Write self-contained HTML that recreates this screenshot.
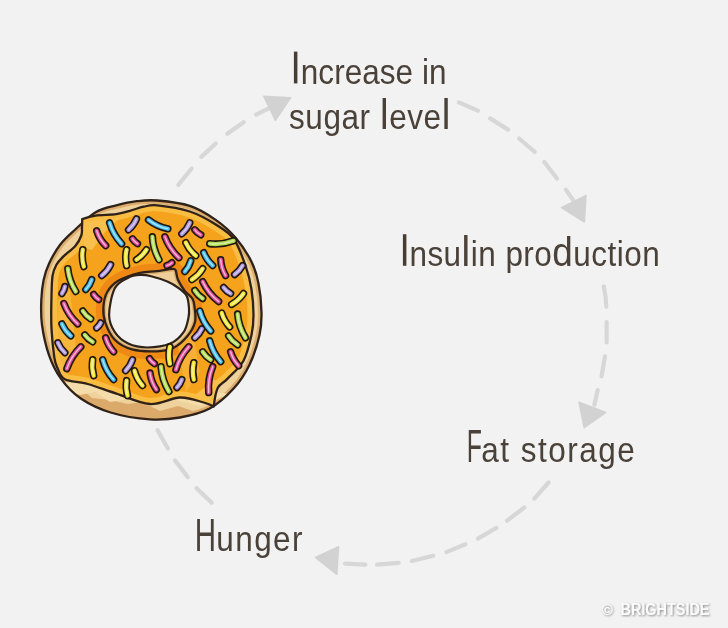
<!DOCTYPE html>
<html><head><meta charset="utf-8">
<style>
html,body{margin:0;padding:0;background:#f2f2f2;width:728px;height:628px;overflow:hidden;}
svg{display:block;position:absolute;left:0;top:0;will-change:transform;}
text{font-family:"Liberation Sans",sans-serif;fill:#4a4139;}
</style></head><body>
<svg width="728" height="628" viewBox="0 0 728 628">
<rect width="728" height="628" fill="#f2f2f2"/>
<!-- arrows -->
<g stroke="#d7d7d7" stroke-width="4.2" stroke-linecap="round" fill="none" id="arrows">
<path d="M178.3,184.8 L191.7,168.5"/>
<path d="M201.3,156.9 L215.8,143.5"/>
<path d="M227.3,133.8 L243.7,122.3"/>
<path d="M256.2,114.6 L269.6,107.9"/>

<path d="M458.9,102.4 L477.9,110.6"/>
<path d="M490.1,118.4 L508,129.6"/>
<path d="M519.1,138.5 L534.7,151.9"/>
<path d="M544.3,161.9 L557,178.6"/>
<path d="M565.9,189.7 L573.7,200.9"/>

<path d="M603.8,286.5 Q606,296 606.3,306.8"/>
<path d="M606.6,322 L606.6,342.4"/>
<path d="M605,356.4 L601.5,376.3"/>
<path d="M597.7,390 L594.4,404.8"/>

<path d="M548.6,482.5 L534.3,498.6"/>
<path d="M524.3,507.5 L507.1,520.7"/>
<path d="M496.4,527.9 L477.9,538.6"/>
<path d="M465.4,544.3 L446.4,552.1"/>
<path d="M433.2,555.7 L411.8,561"/>
<path d="M398.6,562.9 L377.1,564.6"/>
<path d="M365.4,564.6 L345,563.6"/>

<path d="M157.5,430.1 L167.9,448.5"/>
<path d="M175,460.4 L187.8,477.1"/>
<path d="M196.5,488.3 L211.7,502.6"/>
</g>
<g fill="#d2d2d2" stroke="#d2d2d2" stroke-width="1.5" stroke-linejoin="round">
<polygon points="263.8,96.3 290.8,97.7 275.4,120.4"/>
<polygon points="561.4,207.6 586,195.3 584.4,222"/>
<polygon points="579,402.2 605.8,412.4 584.2,427.7"/>
<polygon points="315.4,557.5 338.6,546.8 336.8,574.3"/>
</g>
<!-- text -->
<rect x="293.9" y="51.6" width="3.5" height="31.8" fill="#463c34"/>
<rect x="402.9" y="234.2" width="3.5" height="31.6" fill="#463c34"/>
<text transform="translate(300.80,84.00) scale(0.900,1)" font-size="35" textLength="161.92" lengthAdjust="spacing">ncrease in</text>
<text transform="translate(289.00,129.00) scale(0.900,1)" font-size="35" textLength="179.25" lengthAdjust="spacing">sugar <tspan style="font-size:43px">l</tspan>eve<tspan style="font-size:43px">l</tspan></text>
<text transform="translate(409.40,266.00) scale(0.900,1)" font-size="35" textLength="278.19" lengthAdjust="spacing">nsu<tspan style="font-size:43px">l</tspan>in pro<tspan style="font-size:41px">d</tspan>uction</text>
<text transform="translate(466.80,462.30) scale(0.539,1)" font-size="46">F</text>
<text transform="translate(481.30,462.30) scale(0.900,1)" font-size="35" textLength="170.58" lengthAdjust="spacing">at storage</text>
<text transform="translate(194.70,551.00) scale(0.642,1)" font-size="46">H</text>
<text transform="translate(216.30,551.00) scale(0.900,1)" font-size="35" textLength="95.81" lengthAdjust="spacing">unger</text>
<!-- /text -->
<defs><filter id="sh" x="-10%" y="-30%" width="130%" height="180%"><feGaussianBlur in="SourceAlpha" stdDeviation="0.9"/><feOffset dx="1" dy="1.3" result="b"/><feFlood flood-color="#8a8a8a"/><feComposite in2="b" operator="in"/><feMerge><feMergeNode/><feMergeNode in="SourceGraphic"/></feMerge></filter></defs>
<text x="601.8" y="614.6" font-size="15" font-weight="bold" style="fill:#fbfbfb" filter="url(#sh)">©</text><text x="620.5" y="614.6" font-size="16" font-weight="bold" textLength="89" lengthAdjust="spacingAndGlyphs" style="fill:#fbfbfb" filter="url(#sh)">BRIGHTSIDE</text>
<!--DONUT--><g id="donut" stroke-linecap="round" stroke-linejoin="round">
<defs><clipPath id="cO"><path d="M157.4,200.5 C166.2,201.3 180.1,202.7 189.8,205.9 C199.5,209.1 208.1,214.6 215.7,219.9 C223.3,225.2 229.6,230.8 235.6,237.8 C241.6,244.8 247.7,254.1 251.5,261.7 C255.3,269.3 256.8,275.1 258.5,283.5 C260.2,291.9 261.3,303.4 261.5,312.0 C261.7,320.6 261.5,326.1 259.5,334.9 C257.5,343.7 253.8,355.8 249.5,364.7 C245.2,373.6 240.2,381.3 233.6,388.6 C227.0,395.9 218.6,403.7 209.7,408.5 C200.8,413.3 189.8,415.7 179.9,417.5 C170.0,419.3 161.6,420.2 150.0,419.4 C138.4,418.6 122.1,416.0 110.6,412.5 C99.1,409.0 89.1,404.1 80.8,398.5 C72.5,392.9 66.2,385.9 60.9,378.6 C55.6,371.3 52.0,363.7 48.9,354.8 C45.8,345.9 43.3,334.1 42.0,325.0 C40.7,315.9 41.0,307.5 41.3,300.0 C41.6,292.5 42.3,286.1 43.6,280.0 C44.9,273.9 46.3,269.3 49.1,263.4 C51.9,257.5 56.0,250.1 60.3,244.5 C64.6,238.9 68.8,235.4 74.7,230.0 C80.6,224.6 88.7,216.3 95.6,212.2 C102.5,208.1 109.3,207.1 116.2,205.3 C123.1,203.5 129.9,202.0 136.8,201.2 C143.7,200.4 148.6,199.7 157.4,200.5Z"/></clipPath><clipPath id="cI"><path d="M82.2,219.2 C82.2,219.2 89.9,216.4 95.6,215.6 C101.3,214.8 110.5,215.0 116.2,214.2 C121.9,213.4 125.4,212.1 130.0,210.8 C134.6,209.6 139.1,207.6 143.7,206.7 C148.3,205.8 149.7,204.5 157.4,205.3 C165.1,206.1 180.1,208.3 189.8,211.5 C199.5,214.7 208.4,219.9 215.7,224.5 C223.0,229.1 228.6,232.0 233.6,238.8 C238.6,245.7 242.5,257.2 245.5,265.6 C248.5,274.1 250.2,281.3 251.5,289.5 C252.8,297.7 253.5,307.4 253.5,315.0 C253.5,322.6 253.2,327.3 251.5,334.9 C249.8,342.5 247.5,353.4 243.5,360.7 C239.5,368.0 231.9,374.1 227.6,378.6 C223.3,383.2 220.0,383.4 217.7,388.0 C215.4,392.6 213.7,406.5 213.7,406.5 C213.7,406.5 209.3,404.0 203.7,402.5 C198.1,401.0 188.8,397.2 179.9,397.5 C171.0,397.8 160.6,404.6 150.0,404.0 C139.4,403.4 126.8,396.9 116.4,393.6 C106.0,390.3 96.3,386.4 87.7,384.0 C79.1,381.6 69.8,382.0 64.8,379.3 C59.8,376.6 59.2,371.7 57.5,368.0 C55.8,364.3 55.3,363.9 54.3,357.3 C53.3,350.7 52.0,338.2 51.5,328.6 C51.0,319.1 51.2,308.8 51.4,300.0 C51.6,291.2 51.7,281.9 52.5,276.0 C53.3,270.1 54.7,267.9 56.4,264.8 C58.1,261.7 59.5,260.3 62.7,257.1 C65.9,253.9 72.4,249.3 75.5,245.7 C78.6,242.1 80.2,238.6 81.3,235.5 C82.4,232.4 81.8,229.7 82.0,227.0 C82.2,224.3 82.2,219.2 82.2,219.2Z"/></clipPath><clipPath id="cR"><path d="M103.4,307.3 C103.7,302.2 104.7,296.4 107.2,292.0 C109.8,287.6 113.2,283.8 118.7,280.6 C124.2,277.4 133.7,274.4 140.0,272.8 C146.3,271.2 151.3,271.9 156.7,271.2 C162.1,270.5 169.1,269.0 172.3,268.9 C175.5,268.8 174.8,268.8 175.7,270.6 C176.6,272.4 176.4,276.1 177.9,279.5 C179.4,282.9 182.2,287.5 184.6,290.7 C187.0,293.9 190.7,295.7 192.4,298.5 C194.1,301.3 194.2,303.5 194.6,307.4 C195.0,311.3 196.2,317.2 195.0,322.0 C193.8,326.8 191.0,331.8 187.5,336.0 C184.0,340.2 179.2,344.9 174.1,347.5 C169.0,350.1 163.9,351.0 156.9,351.3 C149.9,351.6 139.0,351.3 132.0,349.4 C125.0,347.5 119.2,344.3 114.8,339.8 C110.3,335.3 107.2,328.0 105.3,322.6 C103.4,317.2 103.1,312.4 103.4,307.3Z"/></clipPath></defs>
<path d="M157.4,200.5 C166.2,201.3 180.1,202.7 189.8,205.9 C199.5,209.1 208.1,214.6 215.7,219.9 C223.3,225.2 229.6,230.8 235.6,237.8 C241.6,244.8 247.7,254.1 251.5,261.7 C255.3,269.3 256.8,275.1 258.5,283.5 C260.2,291.9 261.3,303.4 261.5,312.0 C261.7,320.6 261.5,326.1 259.5,334.9 C257.5,343.7 253.8,355.8 249.5,364.7 C245.2,373.6 240.2,381.3 233.6,388.6 C227.0,395.9 218.6,403.7 209.7,408.5 C200.8,413.3 189.8,415.7 179.9,417.5 C170.0,419.3 161.6,420.2 150.0,419.4 C138.4,418.6 122.1,416.0 110.6,412.5 C99.1,409.0 89.1,404.1 80.8,398.5 C72.5,392.9 66.2,385.9 60.9,378.6 C55.6,371.3 52.0,363.7 48.9,354.8 C45.8,345.9 43.3,334.1 42.0,325.0 C40.7,315.9 41.0,307.5 41.3,300.0 C41.6,292.5 42.3,286.1 43.6,280.0 C44.9,273.9 46.3,269.3 49.1,263.4 C51.9,257.5 56.0,250.1 60.3,244.5 C64.6,238.9 68.8,235.4 74.7,230.0 C80.6,224.6 88.7,216.3 95.6,212.2 C102.5,208.1 109.3,207.1 116.2,205.3 C123.1,203.5 129.9,202.0 136.8,201.2 C143.7,200.4 148.6,199.7 157.4,200.5Z" fill="#efd19b"/>
<g clip-path="url(#cO)">
<path d="M157.4,200.5 C166.2,201.3 180.1,202.7 189.8,205.9 C199.5,209.1 208.1,214.6 215.7,219.9 C223.3,225.2 229.6,230.8 235.6,237.8 C241.6,244.8 247.7,254.1 251.5,261.7 C255.3,269.3 256.8,275.1 258.5,283.5 C260.2,291.9 261.3,303.4 261.5,312.0 C261.7,320.6 261.5,326.1 259.5,334.9 C257.5,343.7 253.8,355.8 249.5,364.7 C245.2,373.6 240.2,381.3 233.6,388.6 C227.0,395.9 218.6,403.7 209.7,408.5 C200.8,413.3 189.8,415.7 179.9,417.5 C170.0,419.3 161.6,420.2 150.0,419.4 C138.4,418.6 122.1,416.0 110.6,412.5 C99.1,409.0 89.1,404.1 80.8,398.5 C72.5,392.9 66.2,385.9 60.9,378.6 C55.6,371.3 52.0,363.7 48.9,354.8 C45.8,345.9 43.3,334.1 42.0,325.0 C40.7,315.9 41.0,307.5 41.3,300.0 C41.6,292.5 42.3,286.1 43.6,280.0 C44.9,273.9 46.3,269.3 49.1,263.4 C51.9,257.5 56.0,250.1 60.3,244.5 C64.6,238.9 68.8,235.4 74.7,230.0 C80.6,224.6 88.7,216.3 95.6,212.2 C102.5,208.1 109.3,207.1 116.2,205.3 C123.1,203.5 129.9,202.0 136.8,201.2 C143.7,200.4 148.6,199.7 157.4,200.5Z" fill="none" stroke="#dcad6c" stroke-width="7"/>
<path d="M40,385 L62,392 L78,386 L92,398 L110,400 L128,404 L142,402 L160,411 L178,406 L196,412 L225,400 L270,380 L270,430 L40,430Z" fill="#dba96a"/>
<path d="M60,388 L80,395 L95,392 L110,402 L135,398 L150,406 L175,400 L200,406 L230,394 L215,392 L180,398 L150,398 L120,392 L90,385 L66,382Z" fill="#f4dcab"/>
</g>
<path d="M157.4,200.5 C166.2,201.3 180.1,202.7 189.8,205.9 C199.5,209.1 208.1,214.6 215.7,219.9 C223.3,225.2 229.6,230.8 235.6,237.8 C241.6,244.8 247.7,254.1 251.5,261.7 C255.3,269.3 256.8,275.1 258.5,283.5 C260.2,291.9 261.3,303.4 261.5,312.0 C261.7,320.6 261.5,326.1 259.5,334.9 C257.5,343.7 253.8,355.8 249.5,364.7 C245.2,373.6 240.2,381.3 233.6,388.6 C227.0,395.9 218.6,403.7 209.7,408.5 C200.8,413.3 189.8,415.7 179.9,417.5 C170.0,419.3 161.6,420.2 150.0,419.4 C138.4,418.6 122.1,416.0 110.6,412.5 C99.1,409.0 89.1,404.1 80.8,398.5 C72.5,392.9 66.2,385.9 60.9,378.6 C55.6,371.3 52.0,363.7 48.9,354.8 C45.8,345.9 43.3,334.1 42.0,325.0 C40.7,315.9 41.0,307.5 41.3,300.0 C41.6,292.5 42.3,286.1 43.6,280.0 C44.9,273.9 46.3,269.3 49.1,263.4 C51.9,257.5 56.0,250.1 60.3,244.5 C64.6,238.9 68.8,235.4 74.7,230.0 C80.6,224.6 88.7,216.3 95.6,212.2 C102.5,208.1 109.3,207.1 116.2,205.3 C123.1,203.5 129.9,202.0 136.8,201.2 C143.7,200.4 148.6,199.7 157.4,200.5Z" fill="none" stroke="#2f2219" stroke-width="2.3"/>
<path d="M82.2,219.2 C82.2,219.2 89.9,216.4 95.6,215.6 C101.3,214.8 110.5,215.0 116.2,214.2 C121.9,213.4 125.4,212.1 130.0,210.8 C134.6,209.6 139.1,207.6 143.7,206.7 C148.3,205.8 149.7,204.5 157.4,205.3 C165.1,206.1 180.1,208.3 189.8,211.5 C199.5,214.7 208.4,219.9 215.7,224.5 C223.0,229.1 228.6,232.0 233.6,238.8 C238.6,245.7 242.5,257.2 245.5,265.6 C248.5,274.1 250.2,281.3 251.5,289.5 C252.8,297.7 253.5,307.4 253.5,315.0 C253.5,322.6 253.2,327.3 251.5,334.9 C249.8,342.5 247.5,353.4 243.5,360.7 C239.5,368.0 231.9,374.1 227.6,378.6 C223.3,383.2 220.0,383.4 217.7,388.0 C215.4,392.6 213.7,406.5 213.7,406.5 C213.7,406.5 209.3,404.0 203.7,402.5 C198.1,401.0 188.8,397.2 179.9,397.5 C171.0,397.8 160.6,404.6 150.0,404.0 C139.4,403.4 126.8,396.9 116.4,393.6 C106.0,390.3 96.3,386.4 87.7,384.0 C79.1,381.6 69.8,382.0 64.8,379.3 C59.8,376.6 59.2,371.7 57.5,368.0 C55.8,364.3 55.3,363.9 54.3,357.3 C53.3,350.7 52.0,338.2 51.5,328.6 C51.0,319.1 51.2,308.8 51.4,300.0 C51.6,291.2 51.7,281.9 52.5,276.0 C53.3,270.1 54.7,267.9 56.4,264.8 C58.1,261.7 59.5,260.3 62.7,257.1 C65.9,253.9 72.4,249.3 75.5,245.7 C78.6,242.1 80.2,238.6 81.3,235.5 C82.4,232.4 81.8,229.7 82.0,227.0 C82.2,224.3 82.2,219.2 82.2,219.2Z" fill="#f5a21c"/>
<g clip-path="url(#cI)">
<path d="M82.2,219.2 C82.2,219.2 89.9,216.4 95.6,215.6 C101.3,214.8 110.5,215.0 116.2,214.2 C121.9,213.4 125.4,212.1 130.0,210.8 C134.6,209.6 139.1,207.6 143.7,206.7 C148.3,205.8 149.7,204.5 157.4,205.3 C165.1,206.1 180.1,208.3 189.8,211.5 C199.5,214.7 208.4,219.9 215.7,224.5 C223.0,229.1 228.6,232.0 233.6,238.8 C238.6,245.7 242.5,257.2 245.5,265.6 C248.5,274.1 250.2,281.3 251.5,289.5 C252.8,297.7 253.5,307.4 253.5,315.0 C253.5,322.6 253.2,327.3 251.5,334.9 C249.8,342.5 247.5,353.4 243.5,360.7 C239.5,368.0 231.9,374.1 227.6,378.6 C223.3,383.2 220.0,383.4 217.7,388.0 C215.4,392.6 213.7,406.5 213.7,406.5 C213.7,406.5 209.3,404.0 203.7,402.5 C198.1,401.0 188.8,397.2 179.9,397.5 C171.0,397.8 160.6,404.6 150.0,404.0 C139.4,403.4 126.8,396.9 116.4,393.6 C106.0,390.3 96.3,386.4 87.7,384.0 C79.1,381.6 69.8,382.0 64.8,379.3 C59.8,376.6 59.2,371.7 57.5,368.0 C55.8,364.3 55.3,363.9 54.3,357.3 C53.3,350.7 52.0,338.2 51.5,328.6 C51.0,319.1 51.2,308.8 51.4,300.0 C51.6,291.2 51.7,281.9 52.5,276.0 C53.3,270.1 54.7,267.9 56.4,264.8 C58.1,261.7 59.5,260.3 62.7,257.1 C65.9,253.9 72.4,249.3 75.5,245.7 C78.6,242.1 80.2,238.6 81.3,235.5 C82.4,232.4 81.8,229.7 82.0,227.0 C82.2,224.3 82.2,219.2 82.2,219.2Z" fill="none" stroke="#f9bd42" stroke-width="12"/>
<path d="M103.4,307.3 C103.7,302.2 104.7,296.4 107.2,292.0 C109.8,287.6 113.2,283.8 118.7,280.6 C124.2,277.4 133.7,274.4 140.0,272.8 C146.3,271.2 151.3,271.9 156.7,271.2 C162.1,270.5 169.1,269.0 172.3,268.9 C175.5,268.8 174.8,268.8 175.7,270.6 C176.6,272.4 176.4,276.1 177.9,279.5 C179.4,282.9 182.2,287.5 184.6,290.7 C187.0,293.9 190.7,295.7 192.4,298.5 C194.1,301.3 194.2,303.5 194.6,307.4 C195.0,311.3 196.2,317.2 195.0,322.0 C193.8,326.8 191.0,331.8 187.5,336.0 C184.0,340.2 179.2,344.9 174.1,347.5 C169.0,350.1 163.9,351.0 156.9,351.3 C149.9,351.6 139.0,351.3 132.0,349.4 C125.0,347.5 119.2,344.3 114.8,339.8 C110.3,335.3 107.2,328.0 105.3,322.6 C103.4,317.2 103.1,312.4 103.4,307.3Z" fill="none" stroke="#ef8916" stroke-width="15"/>
<path d="M84,222 L120,218 L105,232 L92,250 L84,248Z" fill="#f9c04c"/>
<path d="M170,300 L186,296 L200,372 L186,392Z" fill="#f8b43a" opacity="0.8"/>
<path d="M58,300 L70,290 L76,350 L64,372 L56,360Z" fill="#f8bb44" opacity="0.8"/>
<path d="M195,395 L214,380 L226,382 L214,406Z" fill="#f9c04c"/>
</g>
<path d="M82.2,219.2 C82.2,219.2 89.9,216.4 95.6,215.6 C101.3,214.8 110.5,215.0 116.2,214.2 C121.9,213.4 125.4,212.1 130.0,210.8 C134.6,209.6 139.1,207.6 143.7,206.7 C148.3,205.8 149.7,204.5 157.4,205.3 C165.1,206.1 180.1,208.3 189.8,211.5 C199.5,214.7 208.4,219.9 215.7,224.5 C223.0,229.1 228.6,232.0 233.6,238.8 C238.6,245.7 242.5,257.2 245.5,265.6 C248.5,274.1 250.2,281.3 251.5,289.5 C252.8,297.7 253.5,307.4 253.5,315.0 C253.5,322.6 253.2,327.3 251.5,334.9 C249.8,342.5 247.5,353.4 243.5,360.7 C239.5,368.0 231.9,374.1 227.6,378.6 C223.3,383.2 220.0,383.4 217.7,388.0 C215.4,392.6 213.7,406.5 213.7,406.5 C213.7,406.5 209.3,404.0 203.7,402.5 C198.1,401.0 188.8,397.2 179.9,397.5 C171.0,397.8 160.6,404.6 150.0,404.0 C139.4,403.4 126.8,396.9 116.4,393.6 C106.0,390.3 96.3,386.4 87.7,384.0 C79.1,381.6 69.8,382.0 64.8,379.3 C59.8,376.6 59.2,371.7 57.5,368.0 C55.8,364.3 55.3,363.9 54.3,357.3 C53.3,350.7 52.0,338.2 51.5,328.6 C51.0,319.1 51.2,308.8 51.4,300.0 C51.6,291.2 51.7,281.9 52.5,276.0 C53.3,270.1 54.7,267.9 56.4,264.8 C58.1,261.7 59.5,260.3 62.7,257.1 C65.9,253.9 72.4,249.3 75.5,245.7 C78.6,242.1 80.2,238.6 81.3,235.5 C82.4,232.4 81.8,229.7 82.0,227.0 C82.2,224.3 82.2,219.2 82.2,219.2Z" fill="none" stroke="#2f2219" stroke-width="2.3"/>
<path d="M103.4,307.3 C103.7,302.2 104.7,296.4 107.2,292.0 C109.8,287.6 113.2,283.8 118.7,280.6 C124.2,277.4 133.7,274.4 140.0,272.8 C146.3,271.2 151.3,271.9 156.7,271.2 C162.1,270.5 169.1,269.0 172.3,268.9 C175.5,268.8 174.8,268.8 175.7,270.6 C176.6,272.4 176.4,276.1 177.9,279.5 C179.4,282.9 182.2,287.5 184.6,290.7 C187.0,293.9 190.7,295.7 192.4,298.5 C194.1,301.3 194.2,303.5 194.6,307.4 C195.0,311.3 196.2,317.2 195.0,322.0 C193.8,326.8 191.0,331.8 187.5,336.0 C184.0,340.2 179.2,344.9 174.1,347.5 C169.0,350.1 163.9,351.0 156.9,351.3 C149.9,351.6 139.0,351.3 132.0,349.4 C125.0,347.5 119.2,344.3 114.8,339.8 C110.3,335.3 107.2,328.0 105.3,322.6 C103.4,317.2 103.1,312.4 103.4,307.3Z" fill="#efcf98"/>
<g clip-path="url(#cR)"><path d="M103.4,307.3 C103.7,302.2 104.7,296.4 107.2,292.0 C109.8,287.6 113.2,283.8 118.7,280.6 C124.2,277.4 133.7,274.4 140.0,272.8 C146.3,271.2 151.3,271.9 156.7,271.2 C162.1,270.5 169.1,269.0 172.3,268.9 C175.5,268.8 174.8,268.8 175.7,270.6 C176.6,272.4 176.4,276.1 177.9,279.5 C179.4,282.9 182.2,287.5 184.6,290.7 C187.0,293.9 190.7,295.7 192.4,298.5 C194.1,301.3 194.2,303.5 194.6,307.4 C195.0,311.3 196.2,317.2 195.0,322.0 C193.8,326.8 191.0,331.8 187.5,336.0 C184.0,340.2 179.2,344.9 174.1,347.5 C169.0,350.1 163.9,351.0 156.9,351.3 C149.9,351.6 139.0,351.3 132.0,349.4 C125.0,347.5 119.2,344.3 114.8,339.8 C110.3,335.3 107.2,328.0 105.3,322.6 C103.4,317.2 103.1,312.4 103.4,307.3Z" fill="none" stroke="#dcad6c" stroke-width="5"/></g>
<path d="M103.4,307.3 C103.7,302.2 104.7,296.4 107.2,292.0 C109.8,287.6 113.2,283.8 118.7,280.6 C124.2,277.4 133.7,274.4 140.0,272.8 C146.3,271.2 151.3,271.9 156.7,271.2 C162.1,270.5 169.1,269.0 172.3,268.9 C175.5,268.8 174.8,268.8 175.7,270.6 C176.6,272.4 176.4,276.1 177.9,279.5 C179.4,282.9 182.2,287.5 184.6,290.7 C187.0,293.9 190.7,295.7 192.4,298.5 C194.1,301.3 194.2,303.5 194.6,307.4 C195.0,311.3 196.2,317.2 195.0,322.0 C193.8,326.8 191.0,331.8 187.5,336.0 C184.0,340.2 179.2,344.9 174.1,347.5 C169.0,350.1 163.9,351.0 156.9,351.3 C149.9,351.6 139.0,351.3 132.0,349.4 C125.0,347.5 119.2,344.3 114.8,339.8 C110.3,335.3 107.2,328.0 105.3,322.6 C103.4,317.2 103.1,312.4 103.4,307.3Z" fill="none" stroke="#2f2219" stroke-width="2.3"/>
<path d="M109.1,315.0 C109.1,307.7 111.6,294.4 114.8,288.2 C118.0,282.0 124.0,279.9 128.2,277.7 C132.4,275.5 136.2,275.2 140.0,275.0 C143.8,274.8 146.4,275.1 151.1,276.2 C155.8,277.3 163.2,279.8 167.9,281.8 C172.6,283.8 175.8,286.0 179.0,288.4 C182.2,290.8 185.1,292.8 186.8,296.2 C188.5,299.6 188.7,304.9 189.0,308.5 C189.3,312.1 189.3,314.1 188.4,318.0 C187.5,321.9 186.6,327.9 183.6,332.2 C180.6,336.5 176.4,341.1 170.3,343.6 C164.2,346.2 154.3,347.5 147.3,347.5 C140.3,347.5 133.6,346.2 128.2,343.6 C122.8,341.1 118.0,337.0 114.8,332.2 C111.6,327.4 109.1,322.3 109.1,315.0Z" fill="#f2f2f2" stroke="#2f2219" stroke-width="2.2"/>
<path d="M96.7,230.8 Q99.4,239.3 105.7,245.7" stroke="#22170f" stroke-width="7.4" fill="none"/>
<path d="M109.6,222.8 Q113.1,234.7 121.6,243.7" stroke="#22170f" stroke-width="7.4" fill="none"/>
<path d="M128.5,229.8 Q133.8,225.3 136.5,218.9" stroke="#22170f" stroke-width="7.4" fill="none"/>
<path d="M148.5,219.9 Q157.1,226.7 167.9,228.8" stroke="#22170f" stroke-width="7.4" fill="none"/>
<path d="M82.8,249.7 Q81.3,258.3 83.8,266.6" stroke="#22170f" stroke-width="7.4" fill="none"/>
<path d="M132.5,238.8 Q134.4,241.8 137.5,243.7" stroke="#22170f" stroke-width="7.4" fill="none"/>
<path d="M126.6,249.7 Q124.7,257.6 126.6,265.6" stroke="#22170f" stroke-width="7.4" fill="none"/>
<path d="M136.5,259.7 Q142.7,255.9 146.5,249.7" stroke="#22170f" stroke-width="7.4" fill="none"/>
<path d="M152.4,236.8 Q153.0,249.0 159.0,259.7" stroke="#22170f" stroke-width="7.4" fill="none"/>
<path d="M67.8,268.6 Q69.1,281.0 75.8,291.5" stroke="#22170f" stroke-width="7.4" fill="none"/>
<path d="M101.7,275.6 Q107.5,271.2 110.6,264.6" stroke="#22170f" stroke-width="7.4" fill="none"/>
<path d="M85.8,289.5 Q89.9,285.3 91.7,279.6" stroke="#22170f" stroke-width="7.4" fill="none"/>
<path d="M61.9,293.5 Q64.2,290.4 64.9,286.5" stroke="#22170f" stroke-width="7.4" fill="none"/>
<path d="M93.7,294.5 Q95.6,297.6 98.7,299.5" stroke="#22170f" stroke-width="7.4" fill="none"/>
<path d="M63.9,303.5 Q68.4,315.4 77.8,323.9" stroke="#22170f" stroke-width="7.4" fill="none"/>
<path d="M82.8,311.0 Q85.8,315.9 90.7,318.9" stroke="#22170f" stroke-width="7.4" fill="none"/>
<path d="M181.8,233.8 Q187.1,229.3 189.8,222.8" stroke="#22170f" stroke-width="7.4" fill="none"/>
<path d="M194.8,229.8 Q197.2,233.0 200.8,234.8" stroke="#22170f" stroke-width="7.4" fill="none"/>
<path d="M164.9,236.8 Q169.4,248.9 178.9,257.7" stroke="#22170f" stroke-width="7.4" fill="none"/>
<path d="M185.8,242.7 Q189.2,250.4 195.8,255.7" stroke="#22170f" stroke-width="7.4" fill="none"/>
<path d="M209.7,243.7 Q222.0,245.1 233.6,240.8" stroke="#22170f" stroke-width="7.4" fill="none"/>
<path d="M203.7,252.7 Q206.7,260.2 212.7,265.6" stroke="#22170f" stroke-width="7.4" fill="none"/>
<path d="M220.7,259.7 Q221.2,268.2 225.6,275.6" stroke="#22170f" stroke-width="7.4" fill="none"/>
<path d="M234.6,274.6 Q239.7,271.1 242.6,265.6" stroke="#22170f" stroke-width="7.4" fill="none"/>
<path d="M166.9,265.6 Q169.7,264.8 171.9,262.7" stroke="#22170f" stroke-width="7.4" fill="none"/>
<path d="M184.8,271.6 Q189.1,266.9 190.8,260.7" stroke="#22170f" stroke-width="7.4" fill="none"/>
<path d="M191.8,279.6 Q198.6,275.4 202.7,268.6" stroke="#22170f" stroke-width="7.4" fill="none"/>
<path d="M202.7,281.6 Q208.3,293.5 218.7,301.5" stroke="#22170f" stroke-width="7.4" fill="none"/>
<path d="M223.6,287.5 Q226.4,291.3 230.6,293.5" stroke="#22170f" stroke-width="7.4" fill="none"/>
<path d="M194.8,290.5 Q197.8,295.4 202.7,298.5" stroke="#22170f" stroke-width="7.4" fill="none"/>
<path d="M231.6,304.4 Q238.9,300.4 243.5,293.5" stroke="#22170f" stroke-width="7.4" fill="none"/>
<path d="M61.9,323.9 Q64.9,331.0 70.8,335.9" stroke="#22170f" stroke-width="7.4" fill="none"/>
<path d="M96.7,327.9 Q99.3,325.9 100.7,322.9" stroke="#22170f" stroke-width="7.4" fill="none"/>
<path d="M84.8,334.9 Q87.9,339.3 92.7,341.8" stroke="#22170f" stroke-width="7.4" fill="none"/>
<path d="M57.9,342.8 Q60.2,348.6 64.9,352.8" stroke="#22170f" stroke-width="7.4" fill="none"/>
<path d="M80.8,346.8 Q71.2,356.1 66.8,368.7" stroke="#22170f" stroke-width="7.4" fill="none"/>
<path d="M105.7,337.8 Q108.0,345.7 113.6,351.8" stroke="#22170f" stroke-width="7.4" fill="none"/>
<path d="M92.7,359.7 Q91.3,367.8 93.7,375.7" stroke="#22170f" stroke-width="7.4" fill="none"/>
<path d="M102.7,359.7 Q105.8,371.0 113.6,379.6" stroke="#22170f" stroke-width="7.4" fill="none"/>
<path d="M125.6,370.7 Q130.4,366.0 132.5,359.7" stroke="#22170f" stroke-width="7.4" fill="none"/>
<path d="M149.5,358.7 Q151.3,361.8 154.4,363.7" stroke="#22170f" stroke-width="7.4" fill="none"/>
<path d="M134.5,370.7 Q136.7,379.1 142.5,385.6" stroke="#22170f" stroke-width="7.4" fill="none"/>
<path d="M126.6,380.6 Q125.3,388.2 127.6,395.6" stroke="#22170f" stroke-width="7.4" fill="none"/>
<path d="M150.0,373.0 Q151.2,382.1 156.4,389.6" stroke="#22170f" stroke-width="7.4" fill="none"/>
<path d="M199.8,311.0 Q202.9,322.3 210.7,330.9" stroke="#22170f" stroke-width="7.4" fill="none"/>
<path d="M221.7,313.0 Q224.0,320.9 229.6,326.9" stroke="#22170f" stroke-width="7.4" fill="none"/>
<path d="M237.6,314.0 Q238.7,326.8 245.5,337.8" stroke="#22170f" stroke-width="7.4" fill="none"/>
<path d="M194.8,337.8 Q199.4,334.2 201.8,328.9" stroke="#22170f" stroke-width="7.4" fill="none"/>
<path d="M228.6,335.9 Q232.0,341.4 237.6,344.8" stroke="#22170f" stroke-width="7.4" fill="none"/>
<path d="M209.7,340.8 Q212.7,352.6 220.7,361.7" stroke="#22170f" stroke-width="7.4" fill="none"/>
<path d="M230.6,351.8 Q232.9,359.7 238.6,365.7" stroke="#22170f" stroke-width="7.4" fill="none"/>
<path d="M169.9,346.8 Q167.9,355.2 169.9,363.7" stroke="#22170f" stroke-width="7.4" fill="none"/>
<path d="M188.8,346.8 Q179.6,356.7 175.9,369.7" stroke="#22170f" stroke-width="7.4" fill="none"/>
<path d="M202.7,351.8 Q205.8,356.7 210.7,359.7" stroke="#22170f" stroke-width="7.4" fill="none"/>
<path d="M193.8,362.7 Q191.8,371.1 193.8,379.6" stroke="#22170f" stroke-width="7.4" fill="none"/>
<path d="M212.7,366.7 Q207.6,379.2 208.7,392.6" stroke="#22170f" stroke-width="7.4" fill="none"/>
<path d="M161.0,366.7 Q162.0,380.1 168.9,391.6" stroke="#22170f" stroke-width="7.4" fill="none"/>
<path d="M176.9,387.6 Q180.3,384.2 181.8,379.6" stroke="#22170f" stroke-width="7.4" fill="none"/>
<path d="M96.7,230.8 Q99.4,239.3 105.7,245.7" stroke="#df4f98" stroke-width="4.2" fill="none"/>
<path d="M109.6,222.8 Q113.1,234.7 121.6,243.7" stroke="#48bdec" stroke-width="4.2" fill="none"/>
<path d="M128.5,229.8 Q133.8,225.3 136.5,218.9" stroke="#ad98e0" stroke-width="4.2" fill="none"/>
<path d="M148.5,219.9 Q157.1,226.7 167.9,228.8" stroke="#48bdec" stroke-width="4.2" fill="none"/>
<path d="M82.8,249.7 Q81.3,258.3 83.8,266.6" stroke="#efe83a" stroke-width="4.2" fill="none"/>
<path d="M132.5,238.8 Q134.4,241.8 137.5,243.7" stroke="#df4f98" stroke-width="4.2" fill="none"/>
<path d="M126.6,249.7 Q124.7,257.6 126.6,265.6" stroke="#efe83a" stroke-width="4.2" fill="none"/>
<path d="M136.5,259.7 Q142.7,255.9 146.5,249.7" stroke="#efe83a" stroke-width="4.2" fill="none"/>
<path d="M152.4,236.8 Q153.0,249.0 159.0,259.7" stroke="#b0dc54" stroke-width="4.2" fill="none"/>
<path d="M67.8,268.6 Q69.1,281.0 75.8,291.5" stroke="#b0dc54" stroke-width="4.2" fill="none"/>
<path d="M101.7,275.6 Q107.5,271.2 110.6,264.6" stroke="#ad98e0" stroke-width="4.2" fill="none"/>
<path d="M85.8,289.5 Q89.9,285.3 91.7,279.6" stroke="#48bdec" stroke-width="4.2" fill="none"/>
<path d="M61.9,293.5 Q64.2,290.4 64.9,286.5" stroke="#ad98e0" stroke-width="4.2" fill="none"/>
<path d="M93.7,294.5 Q95.6,297.6 98.7,299.5" stroke="#df4f98" stroke-width="4.2" fill="none"/>
<path d="M63.9,303.5 Q68.4,315.4 77.8,323.9" stroke="#df4f98" stroke-width="4.2" fill="none"/>
<path d="M82.8,311.0 Q85.8,315.9 90.7,318.9" stroke="#b0dc54" stroke-width="4.2" fill="none"/>
<path d="M181.8,233.8 Q187.1,229.3 189.8,222.8" stroke="#ad98e0" stroke-width="4.2" fill="none"/>
<path d="M194.8,229.8 Q197.2,233.0 200.8,234.8" stroke="#df4f98" stroke-width="4.2" fill="none"/>
<path d="M164.9,236.8 Q169.4,248.9 178.9,257.7" stroke="#df4f98" stroke-width="4.2" fill="none"/>
<path d="M185.8,242.7 Q189.2,250.4 195.8,255.7" stroke="#efe83a" stroke-width="4.2" fill="none"/>
<path d="M209.7,243.7 Q222.0,245.1 233.6,240.8" stroke="#b0dc54" stroke-width="4.2" fill="none"/>
<path d="M203.7,252.7 Q206.7,260.2 212.7,265.6" stroke="#48bdec" stroke-width="4.2" fill="none"/>
<path d="M220.7,259.7 Q221.2,268.2 225.6,275.6" stroke="#df4f98" stroke-width="4.2" fill="none"/>
<path d="M234.6,274.6 Q239.7,271.1 242.6,265.6" stroke="#ad98e0" stroke-width="4.2" fill="none"/>
<path d="M166.9,265.6 Q169.7,264.8 171.9,262.7" stroke="#df4f98" stroke-width="4.2" fill="none"/>
<path d="M184.8,271.6 Q189.1,266.9 190.8,260.7" stroke="#48bdec" stroke-width="4.2" fill="none"/>
<path d="M191.8,279.6 Q198.6,275.4 202.7,268.6" stroke="#efe83a" stroke-width="4.2" fill="none"/>
<path d="M202.7,281.6 Q208.3,293.5 218.7,301.5" stroke="#df4f98" stroke-width="4.2" fill="none"/>
<path d="M223.6,287.5 Q226.4,291.3 230.6,293.5" stroke="#ad98e0" stroke-width="4.2" fill="none"/>
<path d="M194.8,290.5 Q197.8,295.4 202.7,298.5" stroke="#b0dc54" stroke-width="4.2" fill="none"/>
<path d="M231.6,304.4 Q238.9,300.4 243.5,293.5" stroke="#efe83a" stroke-width="4.2" fill="none"/>
<path d="M61.9,323.9 Q64.9,331.0 70.8,335.9" stroke="#48bdec" stroke-width="4.2" fill="none"/>
<path d="M96.7,327.9 Q99.3,325.9 100.7,322.9" stroke="#ad98e0" stroke-width="4.2" fill="none"/>
<path d="M84.8,334.9 Q87.9,339.3 92.7,341.8" stroke="#b0dc54" stroke-width="4.2" fill="none"/>
<path d="M57.9,342.8 Q60.2,348.6 64.9,352.8" stroke="#ad98e0" stroke-width="4.2" fill="none"/>
<path d="M80.8,346.8 Q71.2,356.1 66.8,368.7" stroke="#df4f98" stroke-width="4.2" fill="none"/>
<path d="M105.7,337.8 Q108.0,345.7 113.6,351.8" stroke="#df4f98" stroke-width="4.2" fill="none"/>
<path d="M92.7,359.7 Q91.3,367.8 93.7,375.7" stroke="#efe83a" stroke-width="4.2" fill="none"/>
<path d="M102.7,359.7 Q105.8,371.0 113.6,379.6" stroke="#48bdec" stroke-width="4.2" fill="none"/>
<path d="M125.6,370.7 Q130.4,366.0 132.5,359.7" stroke="#ad98e0" stroke-width="4.2" fill="none"/>
<path d="M149.5,358.7 Q151.3,361.8 154.4,363.7" stroke="#df4f98" stroke-width="4.2" fill="none"/>
<path d="M134.5,370.7 Q136.7,379.1 142.5,385.6" stroke="#efe83a" stroke-width="4.2" fill="none"/>
<path d="M126.6,380.6 Q125.3,388.2 127.6,395.6" stroke="#efe83a" stroke-width="4.2" fill="none"/>
<path d="M150.0,373.0 Q151.2,382.1 156.4,389.6" stroke="#df4f98" stroke-width="4.2" fill="none"/>
<path d="M199.8,311.0 Q202.9,322.3 210.7,330.9" stroke="#48bdec" stroke-width="4.2" fill="none"/>
<path d="M221.7,313.0 Q224.0,320.9 229.6,326.9" stroke="#efe83a" stroke-width="4.2" fill="none"/>
<path d="M237.6,314.0 Q238.7,326.8 245.5,337.8" stroke="#b0dc54" stroke-width="4.2" fill="none"/>
<path d="M194.8,337.8 Q199.4,334.2 201.8,328.9" stroke="#ad98e0" stroke-width="4.2" fill="none"/>
<path d="M228.6,335.9 Q232.0,341.4 237.6,344.8" stroke="#b0dc54" stroke-width="4.2" fill="none"/>
<path d="M209.7,340.8 Q212.7,352.6 220.7,361.7" stroke="#48bdec" stroke-width="4.2" fill="none"/>
<path d="M230.6,351.8 Q232.9,359.7 238.6,365.7" stroke="#df4f98" stroke-width="4.2" fill="none"/>
<path d="M169.9,346.8 Q167.9,355.2 169.9,363.7" stroke="#efe83a" stroke-width="4.2" fill="none"/>
<path d="M188.8,346.8 Q179.6,356.7 175.9,369.7" stroke="#df4f98" stroke-width="4.2" fill="none"/>
<path d="M202.7,351.8 Q205.8,356.7 210.7,359.7" stroke="#b0dc54" stroke-width="4.2" fill="none"/>
<path d="M193.8,362.7 Q191.8,371.1 193.8,379.6" stroke="#efe83a" stroke-width="4.2" fill="none"/>
<path d="M212.7,366.7 Q207.6,379.2 208.7,392.6" stroke="#df4f98" stroke-width="4.2" fill="none"/>
<path d="M161.0,366.7 Q162.0,380.1 168.9,391.6" stroke="#b0dc54" stroke-width="4.2" fill="none"/>
<path d="M176.9,387.6 Q180.3,384.2 181.8,379.6" stroke="#ad98e0" stroke-width="4.2" fill="none"/>
<path d="M96.7,230.8 Q99.4,239.3 105.7,245.7" stroke="#f6b9d8" stroke-width="1.4" fill="none"/>
<path d="M109.6,222.8 Q113.1,234.7 121.6,243.7" stroke="#a8e2f8" stroke-width="1.4" fill="none"/>
<path d="M128.5,229.8 Q133.8,225.3 136.5,218.9" stroke="#dacdf2" stroke-width="1.4" fill="none"/>
<path d="M148.5,219.9 Q157.1,226.7 167.9,228.8" stroke="#a8e2f8" stroke-width="1.4" fill="none"/>
<path d="M82.8,249.7 Q81.3,258.3 83.8,266.6" stroke="#f8f39a" stroke-width="1.4" fill="none"/>
<path d="M132.5,238.8 Q134.4,241.8 137.5,243.7" stroke="#f6b9d8" stroke-width="1.4" fill="none"/>
<path d="M126.6,249.7 Q124.7,257.6 126.6,265.6" stroke="#f8f39a" stroke-width="1.4" fill="none"/>
<path d="M136.5,259.7 Q142.7,255.9 146.5,249.7" stroke="#f8f39a" stroke-width="1.4" fill="none"/>
<path d="M152.4,236.8 Q153.0,249.0 159.0,259.7" stroke="#daf0a8" stroke-width="1.4" fill="none"/>
<path d="M67.8,268.6 Q69.1,281.0 75.8,291.5" stroke="#daf0a8" stroke-width="1.4" fill="none"/>
<path d="M101.7,275.6 Q107.5,271.2 110.6,264.6" stroke="#dacdf2" stroke-width="1.4" fill="none"/>
<path d="M85.8,289.5 Q89.9,285.3 91.7,279.6" stroke="#a8e2f8" stroke-width="1.4" fill="none"/>
<path d="M61.9,293.5 Q64.2,290.4 64.9,286.5" stroke="#dacdf2" stroke-width="1.4" fill="none"/>
<path d="M93.7,294.5 Q95.6,297.6 98.7,299.5" stroke="#f6b9d8" stroke-width="1.4" fill="none"/>
<path d="M63.9,303.5 Q68.4,315.4 77.8,323.9" stroke="#f6b9d8" stroke-width="1.4" fill="none"/>
<path d="M82.8,311.0 Q85.8,315.9 90.7,318.9" stroke="#daf0a8" stroke-width="1.4" fill="none"/>
<path d="M181.8,233.8 Q187.1,229.3 189.8,222.8" stroke="#dacdf2" stroke-width="1.4" fill="none"/>
<path d="M194.8,229.8 Q197.2,233.0 200.8,234.8" stroke="#f6b9d8" stroke-width="1.4" fill="none"/>
<path d="M164.9,236.8 Q169.4,248.9 178.9,257.7" stroke="#f6b9d8" stroke-width="1.4" fill="none"/>
<path d="M185.8,242.7 Q189.2,250.4 195.8,255.7" stroke="#f8f39a" stroke-width="1.4" fill="none"/>
<path d="M209.7,243.7 Q222.0,245.1 233.6,240.8" stroke="#daf0a8" stroke-width="1.4" fill="none"/>
<path d="M203.7,252.7 Q206.7,260.2 212.7,265.6" stroke="#a8e2f8" stroke-width="1.4" fill="none"/>
<path d="M220.7,259.7 Q221.2,268.2 225.6,275.6" stroke="#f6b9d8" stroke-width="1.4" fill="none"/>
<path d="M234.6,274.6 Q239.7,271.1 242.6,265.6" stroke="#dacdf2" stroke-width="1.4" fill="none"/>
<path d="M166.9,265.6 Q169.7,264.8 171.9,262.7" stroke="#f6b9d8" stroke-width="1.4" fill="none"/>
<path d="M184.8,271.6 Q189.1,266.9 190.8,260.7" stroke="#a8e2f8" stroke-width="1.4" fill="none"/>
<path d="M191.8,279.6 Q198.6,275.4 202.7,268.6" stroke="#f8f39a" stroke-width="1.4" fill="none"/>
<path d="M202.7,281.6 Q208.3,293.5 218.7,301.5" stroke="#f6b9d8" stroke-width="1.4" fill="none"/>
<path d="M223.6,287.5 Q226.4,291.3 230.6,293.5" stroke="#dacdf2" stroke-width="1.4" fill="none"/>
<path d="M194.8,290.5 Q197.8,295.4 202.7,298.5" stroke="#daf0a8" stroke-width="1.4" fill="none"/>
<path d="M231.6,304.4 Q238.9,300.4 243.5,293.5" stroke="#f8f39a" stroke-width="1.4" fill="none"/>
<path d="M61.9,323.9 Q64.9,331.0 70.8,335.9" stroke="#a8e2f8" stroke-width="1.4" fill="none"/>
<path d="M96.7,327.9 Q99.3,325.9 100.7,322.9" stroke="#dacdf2" stroke-width="1.4" fill="none"/>
<path d="M84.8,334.9 Q87.9,339.3 92.7,341.8" stroke="#daf0a8" stroke-width="1.4" fill="none"/>
<path d="M57.9,342.8 Q60.2,348.6 64.9,352.8" stroke="#dacdf2" stroke-width="1.4" fill="none"/>
<path d="M80.8,346.8 Q71.2,356.1 66.8,368.7" stroke="#f6b9d8" stroke-width="1.4" fill="none"/>
<path d="M105.7,337.8 Q108.0,345.7 113.6,351.8" stroke="#f6b9d8" stroke-width="1.4" fill="none"/>
<path d="M92.7,359.7 Q91.3,367.8 93.7,375.7" stroke="#f8f39a" stroke-width="1.4" fill="none"/>
<path d="M102.7,359.7 Q105.8,371.0 113.6,379.6" stroke="#a8e2f8" stroke-width="1.4" fill="none"/>
<path d="M125.6,370.7 Q130.4,366.0 132.5,359.7" stroke="#dacdf2" stroke-width="1.4" fill="none"/>
<path d="M149.5,358.7 Q151.3,361.8 154.4,363.7" stroke="#f6b9d8" stroke-width="1.4" fill="none"/>
<path d="M134.5,370.7 Q136.7,379.1 142.5,385.6" stroke="#f8f39a" stroke-width="1.4" fill="none"/>
<path d="M126.6,380.6 Q125.3,388.2 127.6,395.6" stroke="#f8f39a" stroke-width="1.4" fill="none"/>
<path d="M150.0,373.0 Q151.2,382.1 156.4,389.6" stroke="#f6b9d8" stroke-width="1.4" fill="none"/>
<path d="M199.8,311.0 Q202.9,322.3 210.7,330.9" stroke="#a8e2f8" stroke-width="1.4" fill="none"/>
<path d="M221.7,313.0 Q224.0,320.9 229.6,326.9" stroke="#f8f39a" stroke-width="1.4" fill="none"/>
<path d="M237.6,314.0 Q238.7,326.8 245.5,337.8" stroke="#daf0a8" stroke-width="1.4" fill="none"/>
<path d="M194.8,337.8 Q199.4,334.2 201.8,328.9" stroke="#dacdf2" stroke-width="1.4" fill="none"/>
<path d="M228.6,335.9 Q232.0,341.4 237.6,344.8" stroke="#daf0a8" stroke-width="1.4" fill="none"/>
<path d="M209.7,340.8 Q212.7,352.6 220.7,361.7" stroke="#a8e2f8" stroke-width="1.4" fill="none"/>
<path d="M230.6,351.8 Q232.9,359.7 238.6,365.7" stroke="#f6b9d8" stroke-width="1.4" fill="none"/>
<path d="M169.9,346.8 Q167.9,355.2 169.9,363.7" stroke="#f8f39a" stroke-width="1.4" fill="none"/>
<path d="M188.8,346.8 Q179.6,356.7 175.9,369.7" stroke="#f6b9d8" stroke-width="1.4" fill="none"/>
<path d="M202.7,351.8 Q205.8,356.7 210.7,359.7" stroke="#daf0a8" stroke-width="1.4" fill="none"/>
<path d="M193.8,362.7 Q191.8,371.1 193.8,379.6" stroke="#f8f39a" stroke-width="1.4" fill="none"/>
<path d="M212.7,366.7 Q207.6,379.2 208.7,392.6" stroke="#f6b9d8" stroke-width="1.4" fill="none"/>
<path d="M161.0,366.7 Q162.0,380.1 168.9,391.6" stroke="#daf0a8" stroke-width="1.4" fill="none"/>
<path d="M176.9,387.6 Q180.3,384.2 181.8,379.6" stroke="#dacdf2" stroke-width="1.4" fill="none"/>
</g><!--/DONUT-->
</svg>
</body></html>
